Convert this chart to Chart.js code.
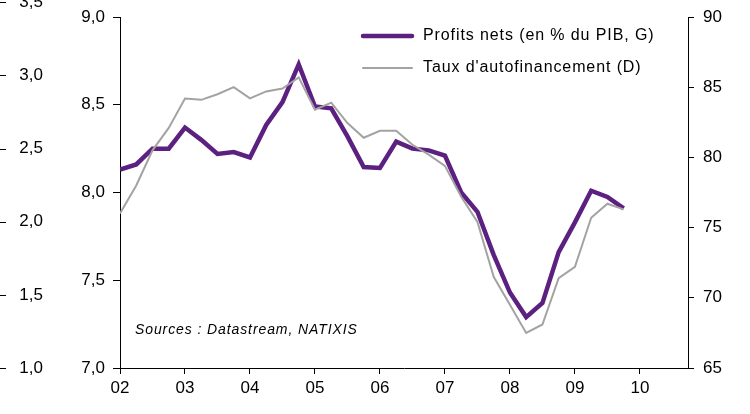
<!DOCTYPE html>
<html>
<head>
<meta charset="utf-8">
<script src="https://cdn.jsdelivr.net/npm/chart.js@4"></script>
<style>
  html, body { margin: 0; padding: 0; background: #fff; }
  canvas { display: block; }
</style>
</head>
<body>
<canvas id="chart" width="750" height="414"></canvas>
<script>
// quarterly points, 2002Q1 .. 2009Q4
const quarters = [
  2002.0, 2002.25, 2002.5, 2002.75, 2003.0, 2003.25, 2003.5, 2003.75,
  2004.0, 2004.25, 2004.5, 2004.75, 2005.0, 2005.25, 2005.5, 2005.75,
  2006.0, 2006.25, 2006.5, 2006.75, 2007.0, 2007.25, 2007.5, 2007.75,
  2008.0, 2008.25, 2008.5, 2008.75, 2009.0, 2009.25, 2009.5, 2009.75
];
// Profits nets (en % du PIB) - left axis
const profits = [
  8.13, 8.16, 8.25, 8.25, 8.37, 8.30, 8.22, 8.23,
  8.20, 8.385, 8.515, 8.73, 8.49, 8.48, 8.32, 8.145,
  8.14, 8.29, 8.25, 8.24, 8.21, 8.00, 7.89, 7.645,
  7.43, 7.29, 7.37, 7.66, 7.83, 8.01, 7.975, 7.91
];
// Taux d'autofinancement - right axis
const autofin = [
  76.0, 78.0, 80.5, 82.1, 84.2, 84.1, 84.5, 85.0,
  84.2, 84.7, 84.9, 85.7, 83.4, 83.9, 82.45, 81.4,
  81.9, 81.9, 80.9, 80.2, 79.4, 77.2, 75.4, 71.5,
  69.5, 67.5, 68.1, 71.4, 72.2, 75.7, 76.7, 76.3
];
const years = [2002, 2003, 2004, 2005, 2006, 2007, 2008, 2009, 2010];
const seriesNames = ['Profits nets (en % du PIB, G)', "Taux d'autofinancement (D)"];
const sourceText = 'Sources : Datastream, NATIXIS';

const purple = '#5B2080';
const grey = '#A3A3A3';
const FONT = 'Liberation Sans, Arial, sans-serif';

const toPoints = (vals) => vals.map((v, i) => ({ x: quarters[i], y: v }));
const comma = (v) => v.toFixed(1).replace('.', ',');
// vertical axes: don't let label overflow push the plot area down
const noPad = (s) => { s.paddingTop = 0; s.paddingBottom = 0; };

// legend + source note + dashes of the cropped outer axis
const decor = {
  id: 'decor',
  afterDraw(chart) {
    const ctx = chart.ctx;
    ctx.save();
    // dashes for the leftmost (cropped) axis
    const s3 = chart.scales.y3;
    ctx.strokeStyle = '#000';
    ctx.lineWidth = 1;
    s3.ticks.forEach((t) => {
      const py = Math.round(s3.getPixelForValue(t.value)) + 0.5;
      ctx.beginPath();
      ctx.moveTo(0, py);
      ctx.lineTo(6, py);
      ctx.stroke();
    });

    // legend
    const items = [
      { color: purple, width: 4.5, y: 36 },
      { color: grey, width: 2, y: 68 }
    ];
    ctx.font = '16px ' + FONT;
    ctx.letterSpacing = '0.9px';
    ctx.textBaseline = 'middle';
    ctx.fillStyle = '#000';
    items.forEach((it, i) => {
      ctx.strokeStyle = it.color;
      ctx.lineWidth = it.width;
      ctx.lineCap = 'round';
      ctx.beginPath();
      ctx.moveTo(363, it.y);
      ctx.lineTo(412, it.y);
      ctx.stroke();
      ctx.fillText(seriesNames[i], 423, it.y);
    });

    // source
    ctx.font = 'italic 14px ' + FONT;
    ctx.letterSpacing = '0.9px';
    ctx.fillText(sourceText, 135, 330);
    ctx.restore();
  }
};

new Chart(document.getElementById('chart'), {
  type: 'line',
  data: {
    datasets: [
      {
        label: seriesNames[0],
        data: toPoints(profits),
        yAxisID: 'y',
        borderColor: purple,
        borderWidth: 4.5,
        pointRadius: 0,
        tension: 0,
        order: 1
      },
      {
        label: seriesNames[1],
        data: toPoints(autofin),
        yAxisID: 'y2',
        borderColor: grey,
        borderWidth: 2,
        pointRadius: 0,
        tension: 0,
        order: 0
      }
    ]
  },
  options: {
    responsive: false,
    animation: false,
    devicePixelRatio: 1,
    layout: { padding: { top: 17, right: 0, bottom: 0, left: 0 } },
    plugins: {
      legend: { display: false },
      tooltip: { enabled: false }
    },
    scales: {
      x: {
        type: 'linear',
        position: 'bottom',
        min: 2002,
        max: 2010.74,
        afterBuildTicks: (s) => { s.ticks = years.map((v) => ({ value: v })); },
        afterFit: (s) => { s.height = 46; },
        ticks: {
          autoSkip: false,
          maxRotation: 0,
          padding: 4,
          color: '#000',
          font: { family: FONT, size: 17 },
          callback: (v) => String(v).slice(2)
        },
        grid: { drawOnChartArea: false, tickLength: 6, color: '#000' },
        border: { color: '#000', width: 1 }
      },
      y3: {
        position: 'left',
        weight: 1,
        min: 1,
        max: 3.4,
        afterBuildTicks: (s) => { s.ticks.push({ value: 3.5 }); },
        afterFit: (s) => { s.width = 55; noPad(s); },
        ticks: {
          stepSize: 0.5,
          includeBounds: false,
          padding: 12,
          color: '#000',
          font: { family: FONT, size: 17 },
          callback: (v) => comma(v)
        },
        grid: { display: false, drawTicks: false },
        border: { display: false }
      },
      y: {
        position: 'left',
        weight: 0,
        min: 7,
        max: 9,
        afterFit: (s) => { s.width = 65; noPad(s); },
        ticks: {
          stepSize: 0.5,
          padding: 8,
          color: '#000',
          font: { family: FONT, size: 17 },
          callback: (v) => comma(v)
        },
        grid: { drawOnChartArea: false, tickLength: 7, color: '#000' },
        border: { color: '#000', width: 1 }
      },
      y2: {
        position: 'right',
        min: 65,
        max: 90,
        afterFit: (s) => { s.width = 62; noPad(s); },
        ticks: {
          stepSize: 5,
          padding: 9,
          color: '#000',
          font: { family: FONT, size: 17 }
        },
        grid: { drawOnChartArea: false, tickLength: 6, color: '#000' },
        border: { color: '#000', width: 1 }
      }
    }
  },
  plugins: [decor]
});
</script>
</body>
</html>
